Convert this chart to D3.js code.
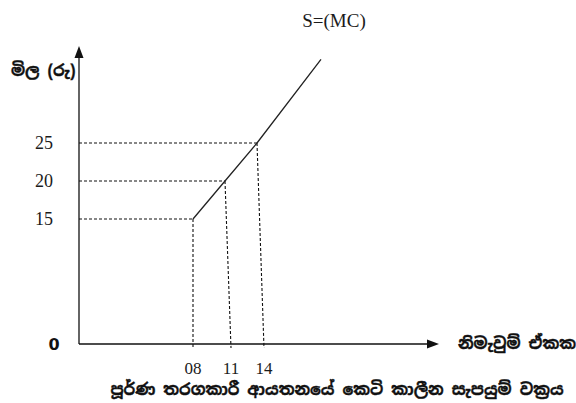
<!DOCTYPE html>
<html>
<head>
<meta charset="utf-8">
<script src="https://cdn.jsdelivr.net/npm/d3@7/dist/d3.min.js"></script>
<style>
  html, body { margin: 0; padding: 0; background: #fff; }
  svg { display: block; }
  .si { font-family: "Noto Sans Sinhala", "Noto Serif Sinhala", "Iskoola Pota", "Noto Sans", sans-serif; font-weight: bold; fill: #111; stroke: #111; stroke-width: 0.35; }
  .num { font-family: "Liberation Serif", "Times New Roman", serif; fill: #1b1b1b; }
</style>
</head>
<body>
<script>
// Short-run supply curve of a perfectly competitive firm (S = MC above AVC minimum)
const supplyQty   = [8, 11, 14, 20];
const supplyPrice = [15, 20, 25, 36];
const markedQty   = [8, 11, 14];
const markedPrice = [15, 20, 25];
const qtyLabels   = ["08", "11", "14"];
const priceLabels = ["15", "20", "25"];

const W = 576, H = 403;
const svg = d3.select("body").append("svg").attr("width", W).attr("height", H);

// Price axis is compressed between 0 and 15
const y = d3.scaleLinear().domain([0, 15, 25]).range([344, 219, 143]);
// Quantity positions along the curve
const x = d3.scaleLinear().domain([0, 8, 14]).range([79, 193, 257]);
// Quantity tick positions printed on the horizontal axis
const xTick = d3.scaleLinear().domain([0, 8, 11, 14]).range([79, 193, 231, 264]);

const ink = "#111";

// Axes
svg.append("line").attr("x1", x(0)).attr("y1", y(0)).attr("x2", x(0)).attr("y2", 56)
  .attr("stroke", ink).attr("stroke-width", 1.3);
svg.append("line").attr("x1", x(0)).attr("y1", y(0)).attr("x2", 429).attr("y2", y(0))
  .attr("stroke", ink).attr("stroke-width", 1.3);
svg.append("path").attr("d", `M${x(0)},46 L${x(0) - 4.5},58 L${x(0) + 4.5},58 Z`).attr("fill", ink);
svg.append("path").attr("d", `M439,${y(0)} L427,${y(0) - 4.5} L427,${y(0) + 4.5} Z`).attr("fill", ink);

const pts = supplyQty.map((q, i) => ({ q, p: supplyPrice[i] }));
const marked = markedQty.map((q, i) => ({ q, p: markedPrice[i] }));

// Dashed guide lines
svg.append("g").selectAll("line.h").data(marked).join("line")
  .attr("x1", x(0)).attr("y1", d => y(d.p))
  .attr("x2", d => x(d.q)).attr("y2", d => y(d.p))
  .attr("stroke", ink).attr("stroke-width", 1.1).attr("stroke-dasharray", "3,2");
svg.append("g").selectAll("line.v").data(marked).join("line")
  .attr("x1", d => x(d.q)).attr("y1", d => y(d.p))
  .attr("x2", d => xTick(d.q)).attr("y2", y(0) + 4)
  .attr("stroke", ink).attr("stroke-width", 1.1).attr("stroke-dasharray", "3,2");

// Supply curve
svg.append("path").datum(pts)
  .attr("d", d3.line().x(d => x(d.q)).y(d => y(d.p)))
  .attr("fill", "none").attr("stroke", "#222").attr("stroke-width", 1.3);

// Tick labels
svg.append("g").selectAll("text").data(markedPrice).join("text")
  .attr("class", "num").attr("x", 44).attr("y", d => y(d)).attr("dy", "0.35em")
  .attr("text-anchor", "middle").attr("font-size", 18).text((d, i) => priceLabels[i]);
svg.append("g").selectAll("text").data(markedQty).join("text")
  .attr("class", "num").attr("x", d => xTick(d)).attr("y", 368).attr("dy", "0.35em")
  .attr("text-anchor", "middle").attr("font-size", 17).text((d, i) => qtyLabels[i]);
svg.append("text").attr("x", 54).attr("y", y(0)).attr("dy", "0.35em")
  .attr("text-anchor", "middle").attr("font-family", "'DejaVu Sans', sans-serif")
  .attr("font-weight", "bold").attr("font-size", 16).attr("fill", ink).text("0");

// Curve label
svg.append("text").attr("class", "num").attr("x", 334).attr("y", 20).attr("dy", "0.35em")
  .attr("text-anchor", "middle").attr("font-size", 19).text("S=(MC)");

// Axis titles and caption
svg.append("text").attr("class", "si").attr("x", 11).attr("y", 70).attr("dy", "0.35em")
  .attr("font-size", 16).text("මිල (රු)");
svg.append("text").attr("class", "si").attr("x", 458).attr("y", 343).attr("dy", "0.35em")
  .attr("font-size", 16).text("නිමැවුම් ඒකක");
svg.append("text").attr("class", "si").attr("x", 337).attr("y", 389).attr("dy", "0.35em")
  .attr("text-anchor", "middle").attr("font-size", 16)
  .text("පූර්ණ තරගකාරී ආයතනයේ කෙටි කාලීන සැපයුම් වක්‍රය");
</script>
</body>
</html>
